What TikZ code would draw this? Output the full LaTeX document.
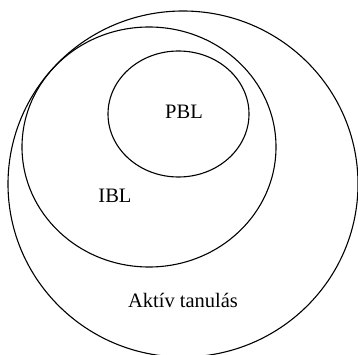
\documentclass[tikz,border=0pt]{standalone}
\usepackage{fontspec}
\setmainfont{Liberation Serif}
\begin{document}
\begin{tikzpicture}[x=1pt,y=-1pt,line width=1.1pt,
    felirat/.style={font=\fontsize{20.5}{24}\selectfont}]
            \useasboundingbox (0,0) rectangle (358,355);

            %ovale esterno
            \draw (183,184) ellipse (175 and 173);
            \node[felirat] (aktiv) at (183,300) {Aktív tanulás};

            %ovale medio
            \draw (149,147) ellipse (127 and 120);
            \node[felirat] (ibl) at (115,196) {IBL};

            %ovale interno
            \draw (178.5,114) ellipse (70.5 and 63);
            \node[felirat] (pbl) at (184,112) {PBL};

        \end{tikzpicture}
\end{document}
